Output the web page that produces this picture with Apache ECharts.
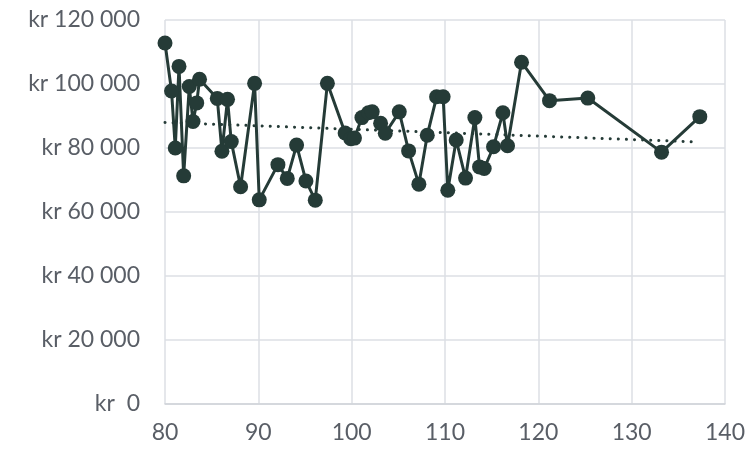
<!DOCTYPE html>
<html>
<head>
<meta charset="utf-8">
<script src="https://cdn.jsdelivr.net/npm/echarts@6/dist/echarts.min.js"></script>
<style>html,body{margin:0;padding:0;background:#fff}#c{width:751px;height:449px}</style>
</head>
<body>
<div id="c"></div>
<script>
const xValues = [80, 80.7, 81.1, 81.5, 82.0, 82.6, 83.0, 83.4, 83.7, 85.6, 86.1, 86.7, 87.1, 88.1, 89.6, 90.1, 92.1, 93.1, 94.1, 95.1, 96.1, 97.4, 99.3, 99.9, 100.3, 101.1, 101.8, 102.2, 103.1, 103.6, 105.1, 106.1, 107.2, 108.1, 109.1, 109.8, 110.3, 111.2, 112.2, 113.2, 113.7, 114.2, 115.2, 116.2, 116.7, 118.2, 121.2, 125.3, 133.2, 137.3];
const yValues = [112800, 97800, 80000, 105500, 71300, 99200, 88300, 94100, 101500, 95500, 79000, 95200, 82000, 67900, 100200, 63800, 74800, 70500, 80900, 69700, 63700, 100200, 84700, 82900, 83100, 89500, 91000, 91300, 87700, 84600, 91300, 79100, 68700, 84000, 96000, 96000, 66800, 82500, 70600, 89500, 74100, 73600, 80400, 91000, 80700, 106800, 94800, 95600, 78700, 89800];
const trendX = [80, 137];
const trendY = [88000, 81900];
const xTicks = [80, 90, 100, 110, 120, 130, 140];
const yTicks = [0, 20000, 40000, 60000, 80000, 100000, 120000];

const color = '#253b37';
const font = 'Lato, "Open Sans", sans-serif';
function fmtKr(v) {
  if (v === 0) return 'kr  0';
  return 'kr ' + String(v).replace(/\B(?=(\d{3})+(?!\d))/g, ' ');
}
const chart = echarts.init(document.getElementById('c'), null, {renderer: 'canvas'});
chart.setOption({
  animation: false,
  grid: {left: 165, right: 26, top: 20, bottom: 45, containLabel: false},
  xAxis: {
    type: 'value', min: xTicks[0], max: xTicks[xTicks.length - 1], interval: 10,
    axisLine: {show: true, lineStyle: {color: '#cfd3d9', width: 1.5}},
    axisTick: {show: false},
    splitLine: {show: true, lineStyle: {color: '#dcdfe4', width: 1.5}},
    axisLabel: {color: '#595e66', fontSize: 23, fontFamily: font, margin: 17}
  },
  yAxis: {
    type: 'value', min: yTicks[0], max: yTicks[yTicks.length - 1], interval: 20000,
    axisLine: {show: false},
    axisTick: {show: false},
    splitLine: {show: true, lineStyle: {color: '#dcdfe4', width: 1.5}},
    axisLabel: {color: '#595e66', fontSize: 23, fontFamily: font, margin: 25, formatter: fmtKr}
  },
  series: [
    {
      type: 'line',
      data: xValues.map((x, i) => [x, yValues[i]]),
      symbol: 'circle', symbolSize: 15,
      lineStyle: {color: color, width: 3},
      itemStyle: {color: color},
      z: 3
    },
    {
      type: 'line',
      data: trendX.map((x, i) => [x, trendY[i]]),
      symbol: 'none',
      lineStyle: {color: color, width: 3, type: [0.1, 8], cap: 'round'},
      z: 2
    }
  ]
});
</script>
</body>
</html>
